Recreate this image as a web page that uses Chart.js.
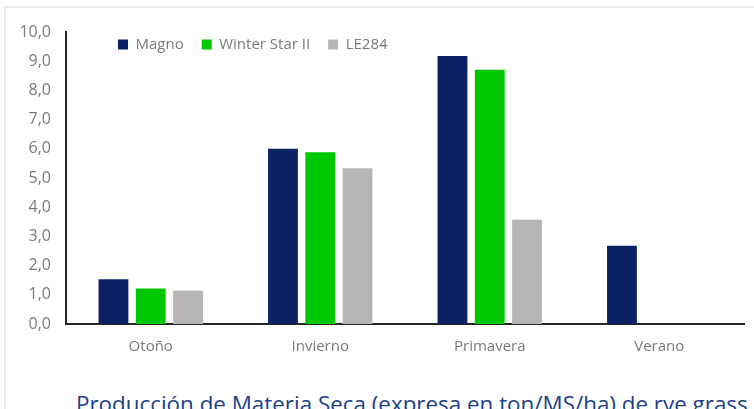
<!DOCTYPE html>
<html>
<head>
<meta charset="utf-8">
<script src="https://cdn.jsdelivr.net/npm/chart.js@4.4.0/dist/chart.umd.min.js"></script>
<style>
  html, body { margin: 0; padding: 0; background: #fff; }
  body { width: 754px; height: 409px; overflow: hidden; position: relative; }
  #frame { position: absolute; left: 4px; top: 6px; right: -2px; bottom: -2px; border-left: 2px solid #ececec; border-top: 2px solid #ececec; }
  #wrap { position: absolute; left: 0; top: 0; width: 754px; height: 360px; }
  #caption { position: absolute; left: 76px; top: 388px; white-space: nowrap; font-family: "Open Sans", sans-serif; font-size: 22.4px; color: #1c3f8c; }
</style>
</head>
<body>
<div id="frame"></div>
<div id="wrap"><canvas id="chart"></canvas></div>
<div id="caption">Producción de Materia Seca (expresa en ton/MS/ha) de rye grass</div>
<script>
// Datos
const estaciones = ['Otoño', 'Invierno', 'Primavera', 'Verano'];
const magno = [1.53, 6.0, 9.18, 2.68];
const winterStar = [1.22, 5.88, 8.71, null];
const le284 = [1.15, 5.33, 3.57, null];
const yTicks = ['0,0', '1,0', '2,0', '3,0', '4,0', '5,0', '6,0', '7,0', '8,0', '9,0', '10,0'];

const grisTexto = '#7a7a7a';
const fuente = { family: '"Open Sans", sans-serif', size: 15 };

// la leyenda va dentro del área del gráfico, arriba a la izquierda
const moverLeyenda = {
    id: 'moverLeyenda',
    beforeDraw(chart) {
        const lg = chart.legend;
        if (!lg) return;
        const h = lg.bottom - lg.top;
        lg.left = chart.chartArea.left + 34;
        lg.top = 19;
        lg.bottom = 19 + h;
    }
};

new Chart(document.getElementById('chart').getContext('2d'), {
    type: 'bar',
    data: {
        labels: estaciones,
        datasets: [
            { label: 'Magno', data: magno, backgroundColor: '#0c2163' },
            { label: 'Winter Star II', data: winterStar, backgroundColor: '#00c800' },
            { label: 'LE284', data: le284, backgroundColor: '#b5b5b5' }
        ]
    },
    options: {
        responsive: true,
        maintainAspectRatio: false,
        animation: false,
        datasets: {
            bar: { categoryPercentage: 0.66, barPercentage: 0.8 }
        },
        // se descuenta el alto de la leyenda (~41px) para que el área empiece en y=30
        layout: { padding: { top: -11, right: 10, left: 0, bottom: 0 } },
        plugins: {
            legend: {
                position: 'top',
                align: 'start',
                labels: {
                    boxWidth: 10,
                    boxHeight: 10,
                    padding: 18,
                    color: grisTexto,
                    font: fuente
                }
            },
            tooltip: { enabled: false }
        },
        scales: {
            y: {
                min: 0,
                max: 10,
                afterFit: scale => { scale.width = 66; },
                border: { display: true, color: '#262626', width: 2 },
                grid: { display: false, drawTicks: false },
                ticks: {
                    stepSize: 1,
                    padding: 15,
                    color: grisTexto,
                    font: { family: fuente.family, size: 16 },
                    callback: (v, i) => yTicks[i]
                }
            },
            x: {
                afterFit: scale => { scale.height = 36; },
                border: { display: true, color: '#262626', width: 2 },
                grid: { display: false, drawTicks: false },
                ticks: {
                    padding: 14,
                    color: grisTexto,
                    font: fuente
                }
            }
        }
    },
    plugins: [moverLeyenda]
});
</script>
</body>
</html>
